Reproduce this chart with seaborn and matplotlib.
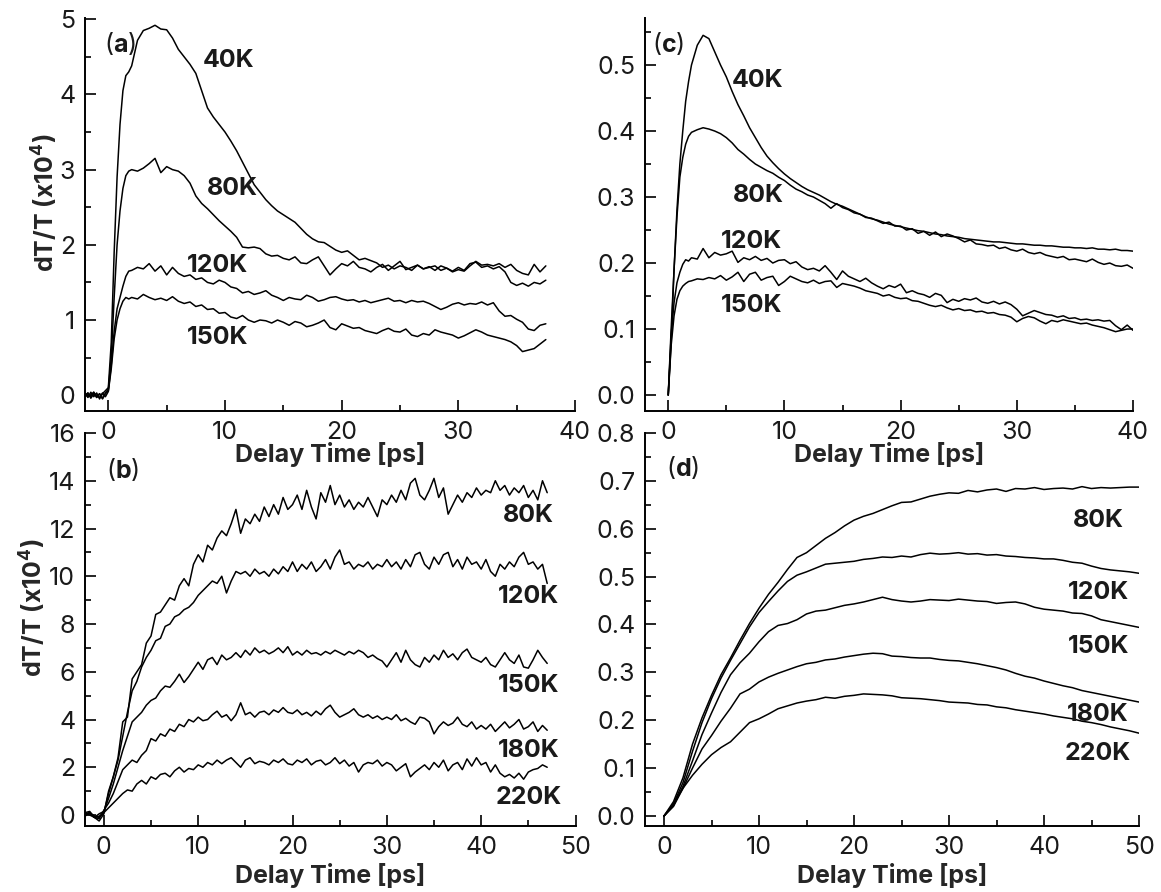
import numpy as np
import pandas as pd
import matplotlib
matplotlib.use("Agg")
import matplotlib.pyplot as plt
from matplotlib.ticker import MultipleLocator, FormatStrFormatter
import seaborn as sns

# ---------------- Panel (a) ----------------
# early segment: t = -2 .. 1.75 step 0.25 ; late segment: t = 2.0 .. 37.5 step 0.5
a_early_t = [-2.0, -1.75, -1.5, -1.25, -1.0, -0.75, -0.5, -0.25, 0.0, 0.25, 0.5, 0.75, 1.0, 1.25, 1.5, 1.75]
a_late_span = (2.0, 37.5)
a_40K_early = [0.02, -0.03, 0.04, -0.02, 0.03, -0.05, 0.02, 0.06, 0.10, 0.7, 1.9, 2.9, 3.6, 4.05, 4.25, 4.3]
a_40K_late = [4.38, 4.72, 4.85, 4.88, 4.92, 4.87, 4.86, 4.75, 4.6, 4.5,
              4.4, 4.28, 4.05, 3.82, 3.7, 3.6, 3.5, 3.38, 3.25, 3.1,
              2.95, 2.8, 2.7, 2.6, 2.52, 2.45, 2.4, 2.35, 2.3, 2.22,
              2.14, 2.08, 2.04, 2.03, 1.98, 1.93, 1.9, 1.92, 1.86, 1.8,
              1.82, 1.79, 1.76, 1.7, 1.73, 1.68, 1.72, 1.7, 1.66, 1.73,
              1.68, 1.7, 1.72, 1.66, 1.69, 1.64, 1.67, 1.65, 1.72, 1.78,
              1.73, 1.74, 1.72, 1.75, 1.7, 1.74, 1.66, 1.62, 1.6, 1.74,
              1.64, 1.72]
a_80K_early = [0.0, 0.03, -0.02, 0.04, -0.03, 0.02, -0.04, 0.03, 0.08, 0.5, 1.3, 2.0, 2.45, 2.75, 2.92, 2.98]
a_80K_late = [3.0, 2.98, 3.02, 3.08, 3.15, 2.96, 3.04, 3.0, 2.98, 2.92,
              2.82, 2.65, 2.55, 2.48, 2.4, 2.32, 2.25, 2.18, 2.1, 1.97,
              1.96, 1.97, 1.95, 1.88, 1.85, 1.86, 1.82, 1.8, 1.84, 1.76,
              1.75, 1.8, 1.84, 1.72, 1.6, 1.68, 1.75, 1.72, 1.78, 1.7,
              1.68, 1.64, 1.7, 1.74, 1.66, 1.72, 1.78, 1.67, 1.7, 1.73,
              1.68, 1.71, 1.66, 1.72, 1.69, 1.65, 1.7, 1.66, 1.75, 1.77,
              1.7, 1.72, 1.68, 1.71, 1.64, 1.5, 1.46, 1.49, 1.45, 1.5,
              1.48, 1.53]
a_120K_early = [0.03, -0.02, 0.0, 0.04, -0.03, 0.02, -0.05, 0.02, 0.06, 0.4, 0.85, 1.15, 1.3, 1.45, 1.58, 1.65]
a_120K_late = [1.66, 1.7, 1.68, 1.75, 1.65, 1.72, 1.6, 1.7, 1.62, 1.58,
               1.6, 1.54, 1.56, 1.5, 1.48, 1.53, 1.5, 1.44, 1.42, 1.36,
               1.38, 1.34, 1.36, 1.39, 1.33, 1.3, 1.26, 1.3, 1.28, 1.27,
               1.33, 1.3, 1.25, 1.27, 1.3, 1.31, 1.28, 1.26, 1.27, 1.24,
               1.26, 1.23, 1.25, 1.27, 1.29, 1.25, 1.26, 1.23, 1.26, 1.24,
               1.25, 1.22, 1.18, 1.14, 1.17, 1.21, 1.23, 1.2, 1.22, 1.21,
               1.24, 1.2, 1.23, 1.12, 1.05, 1.06, 1.01, 0.97, 0.88, 0.86,
               0.93, 0.95]
a_150K_early = [-0.02, 0.03, -0.04, 0.02, 0.0, -0.03, 0.03, -0.02, 0.05, 0.35, 0.75, 1.0, 1.15, 1.25, 1.3, 1.28]
a_150K_late = [1.3, 1.28, 1.34, 1.3, 1.27, 1.29, 1.26, 1.31, 1.25, 1.22,
               1.24, 1.18, 1.2, 1.14, 1.15, 1.09, 1.1, 1.04, 1.02, 1.06,
               1.0, 0.97, 1.0, 0.99, 0.96, 1.0, 0.97, 0.93, 0.98, 0.96,
               0.91, 0.93, 0.96, 1.0, 0.9, 0.87, 0.95, 0.92, 0.89, 0.9,
               0.86, 0.84, 0.82, 0.86, 0.89, 0.85, 0.84, 0.88, 0.8, 0.78,
               0.82, 0.8, 0.87, 0.84, 0.82, 0.8, 0.76, 0.79, 0.83, 0.87,
               0.84, 0.8, 0.78, 0.76, 0.74, 0.71, 0.66, 0.58, 0.6, 0.62,
               0.68, 0.74]

# ---------------- Panel (c) ----------------
c_early_t = [0.0, 0.25, 0.5, 0.75, 1.0, 1.25, 1.5, 1.75, 2.0]
c_late_span = (2.5, 40.0)
c_40K_early = [0.0, 0.1, 0.19, 0.28, 0.35, 0.4, 0.445, 0.475, 0.5]
c_40K_late = [0.53, 0.545, 0.54, 0.52, 0.5, 0.482, 0.46, 0.44, 0.423, 0.405,
              0.39, 0.375, 0.362, 0.352, 0.343, 0.335, 0.328, 0.322, 0.316, 0.311,
              0.307, 0.303, 0.298, 0.293, 0.289, 0.286, 0.282, 0.278, 0.274, 0.27,
              0.267, 0.265, 0.262, 0.259, 0.257, 0.255, 0.253, 0.251, 0.249, 0.248,
              0.246, 0.244, 0.243, 0.241, 0.24, 0.239, 0.237, 0.236, 0.235, 0.234,
              0.233, 0.232, 0.232, 0.231, 0.23, 0.229, 0.229, 0.228, 0.227, 0.227,
              0.226, 0.226, 0.225, 0.224, 0.224, 0.223, 0.223, 0.222, 0.223, 0.221,
              0.221, 0.22, 0.221, 0.219, 0.219, 0.218]
c_80K_early = [0.0, 0.08, 0.19, 0.27, 0.33, 0.36, 0.38, 0.392, 0.398]
c_80K_late = [0.402, 0.405, 0.403, 0.4, 0.396, 0.39, 0.382, 0.372, 0.365, 0.357,
              0.35, 0.345, 0.34, 0.336, 0.33, 0.325, 0.318, 0.312, 0.308, 0.303,
              0.3, 0.295, 0.29, 0.283, 0.29, 0.284, 0.281, 0.276, 0.274, 0.269,
              0.268, 0.264, 0.26, 0.262, 0.256, 0.256, 0.25, 0.252, 0.245, 0.248,
              0.242, 0.247, 0.24, 0.244, 0.241, 0.237, 0.232, 0.235, 0.229, 0.228,
              0.226, 0.227, 0.222, 0.224, 0.22, 0.218, 0.221, 0.216, 0.214, 0.216,
              0.212, 0.21, 0.208, 0.21, 0.205, 0.206, 0.204, 0.202, 0.206, 0.201,
              0.198, 0.2, 0.196, 0.195, 0.197, 0.192]
c_120K_early = [0.0, 0.09, 0.14, 0.17, 0.186, 0.198, 0.205, 0.203, 0.208]
c_120K_late = [0.206, 0.222, 0.208, 0.216, 0.212, 0.214, 0.218, 0.201, 0.208, 0.205,
               0.21, 0.204, 0.207, 0.2, 0.204, 0.205, 0.199, 0.202, 0.194, 0.19,
               0.192, 0.188, 0.196, 0.186, 0.175, 0.188, 0.18, 0.176, 0.172, 0.177,
               0.17, 0.165, 0.161, 0.166, 0.163, 0.168, 0.155, 0.158, 0.154, 0.152,
               0.148, 0.154, 0.151, 0.14, 0.145, 0.142, 0.146, 0.144, 0.147, 0.141,
               0.139, 0.142, 0.138, 0.141, 0.137, 0.13, 0.12, 0.124, 0.128, 0.125,
               0.122, 0.121, 0.118, 0.12, 0.116, 0.117, 0.114, 0.115, 0.113, 0.114,
               0.112, 0.113, 0.105, 0.099, 0.106, 0.098]
c_150K_early = [0.0, 0.075, 0.12, 0.145, 0.158, 0.165, 0.169, 0.172, 0.173]
c_150K_late = [0.176, 0.175, 0.178, 0.176, 0.181, 0.174, 0.179, 0.186, 0.172, 0.183,
               0.186, 0.174, 0.178, 0.18, 0.166, 0.172, 0.18, 0.176, 0.172, 0.17,
               0.174, 0.169, 0.172, 0.173, 0.163, 0.169, 0.167, 0.165, 0.162, 0.158,
               0.156, 0.154, 0.15, 0.152, 0.148, 0.146, 0.147, 0.143, 0.142, 0.139,
               0.136, 0.134, 0.136, 0.132, 0.129, 0.131, 0.128, 0.129, 0.126, 0.127,
               0.124, 0.125, 0.122, 0.121, 0.118, 0.111, 0.116, 0.119, 0.117, 0.112,
               0.108, 0.113, 0.111, 0.114, 0.112, 0.11, 0.108, 0.109, 0.106, 0.104,
               0.102, 0.099, 0.096, 0.098, 0.1, 0.1]

# ---------------- Panel (b) ----------------  t = -2 .. 47 step 0.5
b_span = (-2.0, 47.0)
b_80K = [0.1, 0.15, -0.1, -0.25, 0.05, 1.0, 1.6, 2.4, 3.9, 4.1,
         5.7, 6.0, 6.3, 7.2, 7.5, 8.4, 8.5, 8.8, 9.1, 9.0,
         9.6, 9.9, 9.6, 10.5, 10.9, 10.6, 11.3, 11.1, 11.6, 11.9,
         11.7, 12.2, 12.8, 11.8, 12.4, 12.2, 12.6, 12.3, 12.9, 12.5,
         13.0, 12.6, 13.3, 12.8, 13.0,
         13.4, 12.8, 13.6, 12.9, 12.4, 13.5, 13.1, 13.8, 13.0, 13.4,
         12.9, 13.2, 12.8, 13.1, 12.9, 13.3, 12.9, 12.5, 13.2, 13.0,
         13.4, 13.1, 13.6, 13.2, 13.9, 14.1, 13.4, 13.2, 13.6, 14.1,
         13.3, 13.7, 12.6, 13.0, 13.4, 13.1, 13.5, 13.3, 13.7, 13.4,
         13.6, 13.5, 14.0, 13.6, 13.8, 13.4, 13.7, 13.5, 13.8, 13.3,
         13.6, 13.2, 14.0, 13.5]
b_120K = [0.05, 0.1, -0.05, -0.1, 0.1, 0.9, 1.6, 2.3, 3.3, 4.3,
          5.2, 5.6, 6.2, 6.6, 6.9, 7.3, 7.4, 7.9, 8.0, 8.3,
          8.4, 8.6, 8.7, 8.9, 9.2, 9.4, 9.6, 9.8, 9.7, 10.0,
          9.3, 9.8, 10.2, 10.1, 10.2, 10.0, 10.3, 10.1, 10.2, 10.0,
          10.3, 10.1, 10.4, 10.2, 10.6,
          10.2, 10.5, 10.3, 10.6, 10.2, 10.4, 10.7, 10.3, 10.8, 11.1,
          10.5, 10.6, 10.3, 10.5, 10.4, 10.6, 10.3, 10.5, 10.4, 10.7,
          10.4, 10.6, 10.3, 10.7, 10.4, 10.9, 11.0, 10.5, 10.3, 10.8,
          10.5, 10.9, 11.0, 10.4, 10.7, 10.3, 10.8, 10.5, 10.6, 10.3,
          10.7, 10.2, 10.0, 10.5, 10.3, 10.6, 10.4, 10.8, 11.0, 10.5,
          10.6, 10.3, 10.5, 9.7]
b_150K = [-0.05, 0.1, -0.1, 0.05, 0.15, 0.7, 1.3, 2.0, 2.7, 3.3,
          3.9, 4.1, 4.3, 4.6, 4.8, 4.9, 5.2, 5.4, 5.35, 5.6,
          5.9, 5.55, 5.8, 6.1, 6.4, 6.1, 6.5, 6.6, 6.3, 6.7,
          6.5, 6.6, 6.8, 6.6, 6.9, 6.7, 7.0, 6.8, 6.9, 6.75,
          6.85, 7.0, 6.8, 7.05, 6.7,
          6.85, 6.7, 6.9, 6.75, 6.8, 6.7, 6.85, 6.75, 6.9, 6.8,
          6.7, 6.85, 6.75, 6.9, 6.8, 6.6, 6.7, 6.55, 6.45, 6.2,
          6.5, 6.8, 6.4, 6.9, 6.5, 6.3, 6.2, 6.6, 6.4, 6.7,
          6.5, 6.9, 6.6, 6.75, 6.5, 6.8, 6.95, 6.6, 6.5, 6.4,
          6.6, 6.3, 6.2, 6.5, 6.8, 6.5, 6.35, 6.7, 6.2, 6.15,
          6.5, 6.9, 6.6, 6.35]
b_180K = [0.0, 0.1, -0.1, -0.15, 0.2, 0.5, 0.9, 1.4, 1.9, 2.1,
          2.3, 2.2, 2.5, 2.7, 3.2, 3.1, 3.4, 3.3, 3.6, 3.5,
          3.8, 3.7, 4.0, 3.9, 4.1, 3.95, 4.0, 4.2, 4.35, 4.1,
          4.2, 3.95, 4.2, 4.7, 4.2, 4.3, 4.1, 4.3, 4.35, 4.2,
          4.4, 4.3, 4.5, 4.3, 4.25,
          4.4, 4.2, 4.3, 4.15, 4.35, 4.2, 4.45, 4.6, 4.3, 4.1,
          4.2, 4.3, 4.45, 4.2, 4.1, 4.2, 4.05, 4.15, 4.0, 4.1,
          4.0, 4.2, 3.95, 4.05, 3.9, 3.8, 4.1, 4.05, 3.9, 3.4,
          3.7, 3.9, 3.75, 3.85, 4.1, 3.8, 3.7, 3.9, 3.6, 3.75,
          3.6, 3.8, 3.5, 3.7, 3.9, 3.65, 3.8, 4.0, 3.6, 3.7,
          3.9, 3.5, 3.75, 3.55]
b_220K = [0.05, 0.0, -0.1, -0.05, 0.1, 0.3, 0.5, 0.7, 0.9, 1.05,
          1.0, 1.3, 1.45, 1.3, 1.6, 1.5, 1.7, 1.75, 1.6, 1.85,
          2.0, 1.8, 1.95, 1.9, 2.1, 2.0, 2.2, 2.1, 2.3, 2.15,
          2.3, 2.4, 2.2, 2.0, 2.3, 2.4, 2.15, 2.25, 2.2, 2.1,
          2.3, 2.2, 2.35, 2.15, 2.1,
          2.3, 2.2, 2.35, 2.1, 2.25, 2.3, 2.1, 2.2, 2.4, 2.15,
          2.3, 2.05, 2.2, 1.8, 2.1, 2.2, 2.15, 2.3, 2.05, 2.2,
          2.1, 1.85, 2.0, 2.15, 1.6, 1.8, 1.95, 2.1, 1.9, 2.2,
          2.0, 2.3, 1.85, 2.1, 2.2, 1.9, 2.35, 2.05, 2.4, 2.1,
          2.2, 1.8, 2.1, 1.75, 1.6, 1.7, 1.55, 1.75, 1.5, 1.8,
          1.9, 1.95, 2.1, 2.0]

# ---------------- Panel (d) ----------------  t = 0 .. 50 step 1
d_span = (0.0, 50.0)
d_80K = [0.0, 0.03, 0.08, 0.15, 0.205, 0.252, 0.295, 0.33, 0.367, 0.402,
         0.434, 0.463, 0.488, 0.515, 0.54, 0.55, 0.565, 0.58, 0.592, 0.606,
         0.618, 0.626, 0.632, 0.64, 0.648, 0.655, 0.656, 0.662, 0.668, 0.672,
         0.675, 0.674, 0.68, 0.677, 0.681, 0.683, 0.678, 0.684, 0.683, 0.686,
         0.682, 0.684, 0.685, 0.683, 0.688, 0.684, 0.686, 0.685, 0.686, 0.687, 0.687]
d_120K = [0.0, 0.025, 0.07, 0.135, 0.195, 0.245, 0.288, 0.325, 0.36, 0.395,
          0.425, 0.448, 0.47, 0.49, 0.503, 0.51, 0.518, 0.526, 0.528, 0.53,
          0.532, 0.536, 0.538, 0.541, 0.54, 0.543, 0.541, 0.546, 0.549, 0.547,
          0.548, 0.55, 0.547, 0.548, 0.545, 0.546, 0.543, 0.542, 0.54, 0.539,
          0.537, 0.537, 0.534, 0.53, 0.528, 0.522, 0.517, 0.514, 0.512, 0.51, 0.507]
d_150K = [0.0, 0.022, 0.062, 0.115, 0.17, 0.215, 0.258, 0.295, 0.32, 0.34,
          0.364, 0.385, 0.398, 0.402, 0.41, 0.422, 0.428, 0.43, 0.435, 0.44,
          0.443, 0.447, 0.452, 0.457, 0.452, 0.449, 0.447, 0.449, 0.452, 0.451,
          0.45, 0.453, 0.451, 0.449, 0.448, 0.444, 0.446, 0.447, 0.443, 0.436,
          0.432, 0.43, 0.428, 0.424, 0.423, 0.418, 0.41, 0.406, 0.402, 0.398, 0.394]
d_180K = [0.0, 0.02, 0.058, 0.1, 0.14, 0.168, 0.198, 0.225, 0.255, 0.265,
          0.28, 0.29, 0.298, 0.305, 0.312, 0.318, 0.321, 0.326, 0.328, 0.332,
          0.335, 0.338, 0.34, 0.339, 0.334, 0.333, 0.331, 0.33, 0.33, 0.327,
          0.325, 0.324, 0.321, 0.318, 0.314, 0.31, 0.305, 0.298, 0.292, 0.288,
          0.282, 0.277, 0.272, 0.268, 0.262, 0.258, 0.254, 0.25, 0.246, 0.242, 0.238]
d_220K = [0.0, 0.025, 0.058, 0.085, 0.108, 0.128, 0.143, 0.155, 0.175, 0.195,
          0.203, 0.213, 0.224, 0.23, 0.236, 0.24, 0.243, 0.248, 0.246, 0.25,
          0.252, 0.255, 0.254, 0.253, 0.251, 0.247, 0.246, 0.245, 0.243, 0.241,
          0.238, 0.237, 0.236, 0.233, 0.232, 0.228, 0.226, 0.222, 0.219, 0.216,
          0.213, 0.209, 0.206, 0.203, 0.198, 0.195, 0.191, 0.186, 0.182, 0.178, 0.173]

labels_a = ["40K", "80K", "120K", "150K"]
labels_c = ["40K", "80K", "120K", "150K"]
labels_bd = ["80K", "120K", "150K", "180K", "220K"]


def two_seg(label, early_t, early_v, span, late_v):
    t = list(early_t) + list(np.linspace(span[0], span[1], len(late_v)))
    v = list(early_v) + list(late_v)
    return pd.DataFrame({"t": t, "v": v, "T": label})


def one_seg(label, span, vals):
    return pd.DataFrame({"t": np.linspace(span[0], span[1], len(vals)), "v": vals, "T": label})


df_a = pd.concat([
    two_seg("40K", a_early_t, a_40K_early, a_late_span, a_40K_late),
    two_seg("80K", a_early_t, a_80K_early, a_late_span, a_80K_late),
    two_seg("120K", a_early_t, a_120K_early, a_late_span, a_120K_late),
    two_seg("150K", a_early_t, a_150K_early, a_late_span, a_150K_late),
])
df_c = pd.concat([
    two_seg("40K", c_early_t, c_40K_early, c_late_span, c_40K_late),
    two_seg("80K", c_early_t, c_80K_early, c_late_span, c_80K_late),
    two_seg("120K", c_early_t, c_120K_early, c_late_span, c_120K_late),
    two_seg("150K", c_early_t, c_150K_early, c_late_span, c_150K_late),
])
df_b = pd.concat([one_seg(l, b_span, v) for l, v in
                  zip(labels_bd, [b_80K, b_120K, b_150K, b_180K, b_220K])])
df_d = pd.concat([one_seg(l, d_span, v) for l, v in
                  zip(labels_bd, [d_80K, d_120K, d_150K, d_180K, d_220K])])

# ---------------- style ----------------
sns.set_theme(style="ticks")
plt.rcParams["font.family"] = ["Inter", "DejaVu Sans"]
plt.rcParams.update({
    "mathtext.fontset": "custom",
    "mathtext.rm": "Inter",
    "mathtext.bf": "Inter:bold",
    "mathtext.it": "Inter:italic",
    "axes.edgecolor": "black",
    "text.color": "#1a1a1a",
})

W, H = 1161, 892
fig = plt.figure(figsize=(W / 100, H / 100), dpi=100)


def px_axes(left, top, right, bottom):
    return fig.add_axes([left / W, 1 - bottom / H, (right - left) / W, (bottom - top) / H])


ax_a = px_axes(85, 18.5, 575, 411)
ax_c = px_axes(645, 18.5, 1133, 411)
ax_b = px_axes(85, 433, 575.5, 826)
ax_d = px_axes(645, 433, 1139, 826)

for ax, df in [(ax_a, df_a), (ax_c, df_c), (ax_b, df_b), (ax_d, df_d)]:
    sns.lineplot(data=df, x="t", y="v", units="T", estimator=None, sort=False,
                 color="black", lw=1.1, ax=ax, legend=False)

# limits & ticks
ax_a.set_xlim(-2, 40); ax_a.set_ylim(-0.21, 5.01)
ax_c.set_xlim(-2, 40); ax_c.set_ylim(-0.0242, 0.5705)
ax_b.set_xlim(-2, 50); ax_b.set_ylim(-0.46, 16)
ax_d.set_xlim(-2, 50); ax_d.set_ylim(-0.0209, 0.8)

ax_a.set_xticks([0, 10, 20, 30, 40]); ax_c.set_xticks([0, 10, 20, 30, 40])
ax_b.set_xticks([0, 10, 20, 30, 40, 50]); ax_d.set_xticks([0, 10, 20, 30, 40, 50])
ax_a.set_yticks([0, 1, 2, 3, 4, 5]); ax_a.yaxis.set_minor_locator(MultipleLocator(0.5))
ax_c.set_yticks([0.0, 0.1, 0.2, 0.3, 0.4, 0.5]); ax_c.yaxis.set_minor_locator(MultipleLocator(0.05))
ax_b.set_yticks(list(range(0, 17, 2))); ax_b.yaxis.set_minor_locator(MultipleLocator(1))
ax_d.set_yticks([0.0, 0.1, 0.2, 0.3, 0.4, 0.5, 0.6, 0.7, 0.8]); ax_d.yaxis.set_minor_locator(MultipleLocator(0.05))
ax_c.yaxis.set_major_formatter(FormatStrFormatter("%.1f"))
ax_d.yaxis.set_major_formatter(FormatStrFormatter("%.1f"))

for ax in [ax_a, ax_c, ax_b, ax_d]:
    ax.xaxis.set_minor_locator(MultipleLocator(5))
    sns.despine(ax=ax)
    for s in ["left", "bottom"]:
        ax.spines[s].set_linewidth(1.4)
        ax.spines[s].set_color("black")
    ax.tick_params(which="both", direction="in", color="black", width=1.2)
    ax.tick_params(which="major", length=8, labelsize=18, labelcolor="#1a1a1a")
    ax.tick_params(which="minor", length=4.5)
    ax.tick_params(axis="x", which="major", pad=7)
    ax.tick_params(axis="y", which="major", pad=7)
    ax.set_xlabel("Delay Time [ps]", fontsize=18, fontweight="bold")
    ax.set_ylabel("")
    ax.patch.set_alpha(0.0)

# keep the upper panels' axis titles visible above the lower panels
ax_a.set_zorder(2); ax_c.set_zorder(2)

ax_a.xaxis.set_label_coords(0.5, -0.078)
ax_c.xaxis.set_label_coords(0.5, -0.078)
ax_b.xaxis.set_label_coords(0.5, -0.093)
ax_d.xaxis.set_label_coords(0.5, -0.093)

ylab = r"dT/T (x10$^\mathbf{4}$)"
ax_a.set_ylabel(ylab, fontsize=18, fontweight="bold")
ax_b.set_ylabel(ylab, fontsize=18, fontweight="bold")
ax_a.yaxis.set_label_coords(-0.052, 0.53)
ax_b.yaxis.set_label_coords(-0.075, 0.555)

# panel letters
for ax, letter, pos in [(ax_a, "a", (0.071, 0.936)), (ax_c, "c", (0.047, 0.936)),
                        (ax_b, "b", (0.077, 0.906)), (ax_d, "d", (0.077, 0.913))]:
    ax.text(pos[0], pos[1], r"($\mathbf{" + letter + r"}$)", transform=ax.transAxes,
            fontsize=18, ha="center", va="center")

# curve labels (data coords)
lab_kw = dict(fontsize=18, fontweight="bold", ha="center", va="center")
for txt, x, y in zip(labels_a, [10.3, 10.6, 9.4, 9.4], [4.45, 2.75, 1.73, 0.77]):
    ax_a.text(x, y, txt, **lab_kw)
for txt, x, y in zip(labels_c, [7.7, 7.8, 7.2, 7.2], [0.477, 0.303, 0.232, 0.136]):
    ax_c.text(x, y, txt, **lab_kw)
for txt, y in zip(labels_bd, [12.55, 9.16, 5.44, 2.72, 0.75]):
    ax_b.text(45.0, y, txt, **lab_kw)
for txt, y in zip(labels_bd, [0.618, 0.466, 0.353, 0.213, 0.131]):
    ax_d.text(45.7, y, txt, **lab_kw)

fig.savefig("out.png", dpi=100, facecolor="white")
